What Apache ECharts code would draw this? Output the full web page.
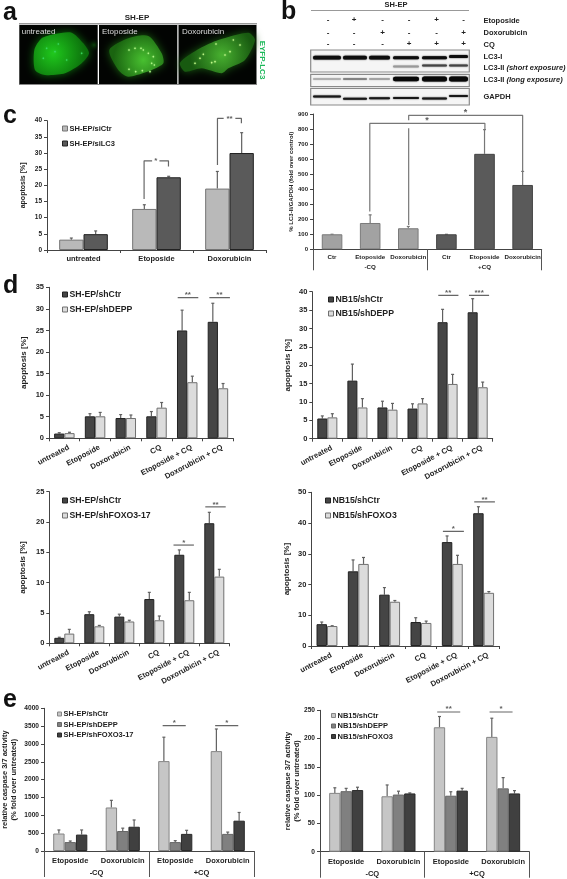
<!DOCTYPE html>
<html><head><meta charset="utf-8">
<style>html,body{margin:0;padding:0;background:#fff}#chart{width:567px;height:879px;filter:blur(0.3px)}</style>
<script src="https://cdn.jsdelivr.net/npm/echarts@6/dist/echarts.min.js"></script>
</head><body><div id="chart"></div>
<script>
// ---------- data ----------
const catsC = ['untreated','Etoposide','Doxorubicin'];
const cCtr = [3.2,12.7,19], cCtrHi = [3.7,14,24.3];
const cLC3 = [4.9,22.5,30], cLC3Hi = [5.9,22.8,36.3];
const catsB = ['Ctr','Etoposide','Doxorubicin','Ctr','Etoposide','Doxorubicin'];
const bVals = [100,175,140,100,635,428], bHi = [100,229,152,100,796,518];
const catsD = ['untreated','Etoposide','Doxorubicin','CQ','Etoposide + CQ','Doxorubicin + CQ'];
const d1Ctr = [1.1,5.1,4.7,5.1,25,27], d1CtrHi = [1.3,5.7,5.5,6.2,29.7,31.3];
const d1Sh = [1.2,5.1,4.7,7.1,13,11.6], d1ShHi = [1.4,6,5.4,8.3,14.4,12.7];
const d2Ctr = [5.5,15.8,8.5,8.2,31.7,34.4], d2CtrHi = [6.2,20.3,10.2,9.5,35.2,38.1];
const d2Sh = [5.8,8.5,7.9,9.6,14.9,14], d2ShHi = [6.8,10.9,9.6,10.9,17.5,15.4];
const d3Ctr = [0.9,4.8,4.4,7.3,14.6,19.8], d3CtrHi = [1,5.2,4.8,8.4,15.4,21.6];
const d3Sh = [1.6,2.8,3.6,3.8,7.1,11], d3ShHi = [2.3,2.95,3.8,4.5,8.4,12.2];
const d4Ctr = [7.1,24.3,16.7,7.8,33.8,43.2], d4CtrHi = [7.8,28,19,9.2,35.8,45.3];
const d4Sh = [6.5,26.7,14.4,7.5,26.7,17.3], d4ShHi = [6.6,28.8,14.8,8.1,29.5,17.7];
const catsE = ['Etoposide','Doxorubicin','Etoposide','Doxorubicin'];
const groupsCQ = ['-CQ','+CQ'];
const e1Ctr = [490,1220,2520,2800], e1CtrHi = [590,1420,3190,3420];
const e1Depp = [250,560,250,480], e1DeppHi = [280,640,290,530];
const e1Foxo = [460,680,480,850], e1FoxoHi = [590,870,580,1080];
const e2Ctr = [104,98,220,203], e2CtrHi = [113,118,239,236];
const e2Depp = [107,101,99,112], e2DeppHi = [112,107,106,131];
const e2Foxo = [109,103,108,103], e2FoxoHi = [114,104,112,108];
// significance brackets (axis units: category position, value)
const cBrackets = [[[1.33,15.8],[1.33,27.6],[1.44,27.6]],[[1.54,27.6],[1.664,27.6],[1.664,25.8]],[[2.335,26.3],[2.335,40.7],[2.42,40.7]],[[2.58,40.7],[2.663,40.7],[2.663,39.2]]];
const cStars = [[1.49,27.6,'*'],[2.5,40.7,'**']];
const bBrackets = [[[1.49,251],[1.49,838],[4.51,838],[4.51,796]],[[2.51,858],[2.51,891],[5.5,891],[5.5,518]],[[2.51,806],[2.51,162]]];
const bStars = [[2.99,855,'*'],[4.0,908,'*']];
const d1Brackets = [[[4.19,32.6],[4.86,32.6]],[[5.22,32.6],[5.89,32.6]]];
const d1Stars = [[4.52,33.2,'**'],[5.55,33.2,'**']];
const d2Brackets = [[[4.19,39],[4.86,39]],[[5.21,39],[5.88,39]]];
const d2Stars = [[4.52,39.7,'**'],[5.55,39.7,'***']];
const d3Brackets = [[[4.14,16.2],[4.82,16.2]],[[5.2,22.5],[5.88,22.5]]];
const d3Stars = [[4.48,16.6,'*'],[5.54,22.9,'**']];
const d4Brackets = [[[4.2,37.3],[4.87,37.3]],[[5.2,46.9],[5.86,46.9]]];
const d4Stars = [[4.53,38,'*'],[5.53,47.6,'**']];
const e1Brackets = [[[2.26,3514],[2.7,3514]],[[3.26,3514],[3.7,3514]]];
const e1Stars = [[2.48,3590,'*'],[3.48,3590,'*']];
const e2Brackets = [[[2.24,247],[2.68,247]],[[3.24,247],[3.68,247]]];
const e2Stars = [[2.46,252,'**'],[3.46,252,'*']];
// western-blot treatment rows
const blotEto = ['-','+','-','-','+','-'];
const blotDoxo = ['-','-','+','-','-','+'];
const blotCQ = ['-','-','-','+','+','+'];

// ---------- builders ----------
const FONT = '"Liberation Sans", Arial, sans-serif';
const INK = '#222';
const LIGHT_C = {fill:'#b9b9b9', line:'#757575'};
const DARK_C = {fill:'#5a5a5a', line:'#222'};
const DARK_D = {fill:'#454545', line:'#222'};
const LIGHT_D = {fill:'#dcdcdc', line:'#707070'};
const E1 = {fill:'#c6c6c6', line:'#858585'};
const E2 = {fill:'#808080', line:'#666'};
const E3 = {fill:'#404040', line:'#2a2a2a'};
const option = {animation:false, backgroundColor:'#fff', textStyle:{fontFamily:FONT},
  grid:[], xAxis:[], yAxis:[], series:[], legend:[], graphic:{elements:[]}};

function addPanel(p){
  const g = option.grid.length;
  option.grid.push({left:p.box[0], top:p.box[1], width:p.box[2]-p.box[0], height:p.box[3]-p.box[1], containLabel:false});
  const cx = option.xAxis.length;
  option.xAxis.push({type:'category', gridIndex:g, data:p.cats, position:'bottom',
    axisLine:{show:true, lineStyle:{color:'#444', width:1}},
    axisTick:{show:true, length:p.groups?0:3, alignWithLabel:false, lineStyle:{color:'#444'}},
    axisLabel:{show:true, interval:0, rotate:p.rotate||0, fontSize:p.catSize, fontWeight:'bold', color:INK, margin:p.catMargin, padding:p.catPadding||0, fontFamily:FONT}});
  if(p.groups){
    option.xAxis.push({type:'category', gridIndex:g, data:p.groups, position:'bottom',
      axisLine:{show:false}, axisTick:{show:true, length:p.groupTick, lineStyle:{color:'#555'}},
      axisLabel:{show:true, interval:0, fontSize:p.catSize, fontWeight:'bold', color:INK, margin:p.groupMargin, fontFamily:FONT}});
  }
  const vx = option.xAxis.length;
  option.xAxis.push({type:'value', gridIndex:g, min:0, max:p.cats.length, show:false, position:'top', splitLine:{show:false}});
  const y = option.yAxis.length;
  option.yAxis.push({type:'value', gridIndex:g, min:0, max:p.ymax, interval:p.step,
    name:p.yname, nameLocation:'middle', nameRotate:90, nameGap:p.nameGap, nameMoveOverlap:false,
    nameTextStyle:{fontSize:p.nameSize, fontWeight:'bold', color:INK, lineHeight:p.nameSize+1, fontFamily:FONT},
    axisLine:{show:true, lineStyle:{color:'#444', width:1}},
    axisTick:{show:true, length:3, lineStyle:{color:'#444'}},
    splitLine:{show:false},
    axisLabel:{fontSize:p.tickSize, fontWeight:'bold', color:INK, margin:5, fontFamily:FONT, formatter:v=>String(v)}});
  const n = p.bars.length, gap = p.gap;
  p.bars.forEach((b,i)=>{
    option.series.push({type:'bar', name:b.name, xAxisIndex:cx, yAxisIndex:y, silent:true,
      barGap:'0%', barCategoryGap:(gap*100)+'%',
      itemStyle:{color:b.style.fill, borderColor:b.style.line, borderWidth:1},
      data:b.vals.map((v,k)=> b.perPoint ? {value:v, itemStyle:{color:b.perPoint[k].fill, borderColor:b.perPoint[k].line, borderWidth:1}} : v)});
    option.series.push({type:'custom', xAxisIndex:cx, yAxisIndex:y, silent:true, clip:false, z:1,
      data:b.vals.map((v,k)=>[k,v,b.hi[k]]),
      renderItem:(params,api)=>{
        const band = api.size([1,0])[0];
        const off = (i-(n-1)/2)*band*(1-gap)/n;
        const lo = api.coord([api.value(0),api.value(1)]), hi = api.coord([api.value(0),api.value(2)]);
        const x = lo[0]+off, st = {stroke:p.errColor||'#606060', lineWidth:1.2, fill:'none'};
        return {type:'group', children:[
          {type:'line', shape:{x1:x,y1:lo[1],x2:x,y2:hi[1]}, style:st},
          {type:'line', shape:{x1:x-1.5,y1:hi[1],x2:x+1.5,y2:hi[1]}, style:st}]};
      }});
  });
  (p.brackets||[]).forEach(pts=>{
    option.series.push({type:'line', xAxisIndex:vx, yAxisIndex:y, data:pts, symbol:'none', silent:true, clip:false,
      lineStyle:{color:p.bracketColor||'#555', width:p.bracketWidth||1.2}, z:3});
  });
  if(p.stars) option.series.push({type:'scatter', xAxisIndex:vx, yAxisIndex:y, data:p.stars, silent:true, clip:false,
    symbolSize:1, itemStyle:{color:'transparent'}, z:4,
    label:{show:true, position:'inside', formatter:o=>o.value[2], fontSize:p.starSize||8, fontWeight:'bold', color:'#333', fontFamily:FONT}});
  if(p.legend) option.legend.push({left:p.legend.left, top:p.legend.top, orient:'vertical', padding:0,
    itemGap:p.legend.gap, itemWidth:p.legend.sym, itemHeight:p.legend.sym, selectedMode:false, icon:'rect',
    textStyle:{fontSize:p.legend.size, fontWeight:'bold', color:INK, fontFamily:FONT, padding:[0,0,0,-3]},
    data:p.bars.map(b=>({name:b.name, icon:'rect', itemStyle:{color:b.style.fill, borderColor:b.style.line, borderWidth:1}}))});
}

const A = 'apoptosis [%]', CASP = 'relative caspase 3/7 activity\n(% fold over untreated)';
addPanel({box:[47,120.7,266,250], cats:catsC, ymax:40, step:5, gap:1/3, catSize:7.5, catMargin:5, tickSize:6.5, yname:A, nameGap:19.5, nameSize:7,
  bars:[{name:'SH-EP/siCtr',vals:cCtr,hi:cCtrHi,style:LIGHT_C},{name:'SH-EP/siLC3',vals:cLC3,hi:cLC3Hi,style:DARK_C}],
  brackets:cBrackets, stars:cStars, bracketColor:'#666',
  legend:{left:62,top:124.5,gap:7,sym:5,size:7.5}});
const bStyles = [0,1,2].map(()=>({fill:'#a2a2a2',line:'#7a7a7a'})).concat([0,1,2].map(()=>({fill:'#5a5a5a',line:'#444'})));
addPanel({box:[313,114,541.7,249.3], cats:catsB, ymax:900, step:100, gap:0.46, catSize:6.2, catMargin:5, tickSize:6,
  yname:'% LC3-II/GAPDH (fold over control)', nameGap:18, nameSize:6, groups:groupsCQ, groupTick:21, groupMargin:15,
  bars:[{name:'b',vals:bVals,hi:bHi,style:bStyles[0],perPoint:bStyles}], brackets:bBrackets, stars:bStars, bracketColor:'#777', bracketWidth:1.2, errColor:'#777', starSize:9});
const dCommon = {gap:1/3, catSize:7.6, catMargin:11, catPadding:[0,-5,0,0], tickSize:7.5, yname:A, nameSize:8, rotate:28, bracketColor:'#666', starSize:8};
addPanel({...dCommon, box:[49,287.3,233.3,438.3], cats:catsD, ymax:35, step:5, nameGap:21,
  bars:[{name:'SH-EP/shCtr',vals:d1Ctr,hi:d1CtrHi,style:DARK_D},{name:'SH-EP/shDEPP',vals:d1Sh,hi:d1ShHi,style:LIGHT_D}],
  brackets:d1Brackets, stars:d1Stars, legend:{left:62,top:290,gap:6,sym:5,size:8.7}});
addPanel({...dCommon, box:[312.3,291.7,492.7,438.7], cats:catsD, ymax:40, step:5, nameGap:20,
  bars:[{name:'NB15/shCtr',vals:d2Ctr,hi:d2CtrHi,style:DARK_D},{name:'NB15/shDEPP',vals:d2Sh,hi:d2ShHi,style:LIGHT_D}],
  brackets:d2Brackets, stars:d2Stars, legend:{left:328,top:295,gap:5,sym:5,size:8.7}});
addPanel({...dCommon, box:[49.3,491.7,229.3,643.3], cats:catsD, ymax:25, step:5, nameGap:22,
  bars:[{name:'SH-EP/shCtr',vals:d3Ctr,hi:d3CtrHi,style:DARK_D},{name:'SH-EP/shFOXO3-17',vals:d3Sh,hi:d3ShHi,style:LIGHT_D}],
  brackets:d3Brackets, stars:d3Stars, legend:{left:62,top:496,gap:6,sym:5,size:8.7}});
addPanel({...dCommon, box:[311.3,492.3,499.3,646], cats:catsD, ymax:50, step:10, nameGap:20,
  bars:[{name:'NB15/shCtr',vals:d4Ctr,hi:d4CtrHi,style:DARK_D},{name:'NB15/shFOXO3',vals:d4Sh,hi:d4ShHi,style:LIGHT_D}],
  brackets:d4Brackets, stars:d4Stars, legend:{left:325,top:496,gap:6,sym:5,size:8.7}});
const eCommon = {gap:0.35, catSize:7.5, catMargin:6, tickSize:6.6, yname:CASP, nameSize:7.5, groups:groupsCQ, groupTick:26, groupMargin:18, bracketColor:'#666', starSize:8};
addPanel({...eCommon, box:[43.7,708.3,254,851], cats:catsE, ymax:4000, step:500, nameGap:26,
  bars:[{name:'SH-EP/shCtr',vals:e1Ctr,hi:e1CtrHi,style:E1},{name:'SH-EP/shDEPP',vals:e1Depp,hi:e1DeppHi,style:E2},{name:'SH-EP/shFOXO3-17',vals:e1Foxo,hi:e1FoxoHi,style:E3}],
  brackets:e1Brackets, stars:e1Stars, legend:{left:57,top:710,gap:2.5,sym:4,size:7.5}});
addPanel({...eCommon, box:[320,710.3,529.3,851.7], cats:catsE, ymax:250, step:50, nameGap:19,
  bars:[{name:'NB15/shCtr',vals:e2Ctr,hi:e2CtrHi,style:E1},{name:'NB15/shDEPP',vals:e2Depp,hi:e2DeppHi,style:E2},{name:'NB15/shFOXO3',vals:e2Foxo,hi:e2FoxoHi,style:E3}],
  brackets:e2Brackets, stars:e2Stars, legend:{left:331,top:711.5,gap:2.5,sym:4,size:7.5}});

// ---------- illustrations (micrographs & blots) ----------
const G = option.graphic.elements;
const text=(x,y,s,o={})=>G.push({type:'text', x, y, rotation:o.rot||0, z:20, silent:true, style:{text:s, rich:o.rich, fontFamily:FONT, fontSize:o.size||8, fontWeight:o.weight||'bold', fill:o.fill||INK, align:o.align||'left', verticalAlign:'middle'}});
[['a',3,13],['b',281,12],['c',3,116],['d',3,286],['e',3,700]].forEach(l=>text(l[1],l[2],l[0],{size:25,fill:'#111'}));

// panel a
const az=(x,y)=>[15+x/3,20+y/3];
G.push({type:'rect',shape:{x:19,y:23,width:238,height:1.5},style:{fill:'#999'},z:5,silent:true});
G.push({type:'rect',shape:{x:19,y:84,width:238,height:1},style:{fill:'#888'},z:5,silent:true});
[[19.3,78.4],[99,78.3],[178.5,78]].forEach(r=>G.push({type:'rect',shape:{x:r[0],y:25,width:r[1],height:59},style:{fill:'#020402'},z:5,silent:true}));
function cell(pts,cx,cy,rr,inner,outer,dots,dotCol){
  const P=pts.map(p=>az(p[0],p[1])); const c=az(cx,cy);
  G.push({type:'polygon',z:6,silent:true,shape:{points:P,smooth:0.25},style:{
    fill:new echarts.graphic.RadialGradient(c[0],c[1],rr,[{offset:0,color:inner},{offset:1,color:outer}],true),
    shadowBlur:8,shadowColor:outer}});
  dots.forEach(d=>{const q=az(d[0],d[1]);G.push({type:'circle',z:7,silent:true,shape:{cx:q[0],cy:q[1],r:d[2]||0.8},style:{fill:dotCol,shadowBlur:1.5,shadowColor:dotCol}})});
}
G.push({type:'rect',z:5.5,silent:true,shape:{x:85,y:25,width:12.7,height:50},style:{fill:new echarts.graphic.RadialGradient(0.7,0.4,0.6,[{offset:0,color:'#0a420a'},{offset:1,color:'rgba(2,4,2,0)'}])}});
cell([[58,90],[80,55],[120,42],[170,38],[205,70],[222,100],[200,130],[150,160],[90,165],[60,150]],115,100,32,'#1fc81c','#0c700c',[[95,85],[120,95],[130,72],[155,120],[85,115],[200,100]],'#39d860');
cell([[283,90],[340,55],[400,48],[440,100],[445,130],[410,150],[340,170],[310,150]],385,120,30,'#48c030','#1a6410',[[342,90],[360,85],[378,85],[385,90],[400,100],[415,110],[410,130],[418,135],[342,148],[362,155],[382,152],[405,155]],'#b0f888');
cell([[495,128],[555,85],[610,60],[700,38],[720,60],[690,120],[640,145],[620,160],[560,145],[510,155]],620,105,32,'#48b030','#185a10',[[603,72],[655,60],[675,75],[565,103],[555,115],[540,130],[600,125],[590,128],[645,95],[630,105]],'#c0f888');
[['untreated',21.7],['Etoposide',102],['Doxorubicin',182]].forEach(t=>text(t[1],32,t[0],{size:8,weight:'normal',fill:'#ddd'}));
text(137,17.5,'SH-EP',{align:'center',size:8});
text(262,60,'EYFP-LC3',{align:'center',size:8,fill:'#1cb85a',rot:-Math.PI/2});

// panel b blot
G.push({type:'rect',shape:{x:311,y:10,width:158,height:1},style:{fill:'#999'},silent:true,z:5});
text(396,4.5,'SH-EP',{align:'center',size:7.5});
const colX=[328,354,382.6,409,436.5,463.6];
[[blotEto,20],[blotDoxo,32.3],[blotCQ,43.3]].forEach(r=>r[0].forEach((s,i)=>text(colX[i],r[1],s,{align:'center',size:8})));
[['Etoposide',20.5],['Doxorubicin',33],['CQ',44.5]].forEach(l=>text(483.5,l[1],l[0],{size:7.5}));
text(483.5,57,'LC3-I',{size:7.5});
const richStyles={a:{fontSize:7.5,fontWeight:'bold',fontFamily:FONT,fill:INK},b:{fontSize:7.5,fontWeight:'bold',fontStyle:'italic',fontFamily:FONT,fill:INK}};
text(483.5,68,'{a|LC3-II }{b|(short exposure)}',{rich:richStyles});
text(483.5,80,'{a|LC3-II }{b|(long exposure)}',{rich:richStyles});
text(483.5,97,'GAPDH',{size:7.5});
[[50,22],[74.3,12.2],[88.3,16.7]].forEach(b=>G.push({type:'rect',z:5,silent:true,shape:{x:310.7,y:b[0],width:158.6,height:b[1]},style:{fill:'#f5f5f5',stroke:'#8a8a8a',lineWidth:1.2}}));
const laneR=[[313,341],[343,367],[369,390],[393,419],[422,447],[449,468]];
const band=(lane,y,h,col)=>{const l=laneR[lane];G.push({type:'rect',z:6,silent:true,shape:{x:l[0],y:y-h/2,width:l[1]-l[0],height:h,r:h/2},style:{fill:col,shadowBlur:1.5,shadowColor:col}})};
[0,1,2,3,4,5].forEach(i=>band(i,i===5?56.5:57.7,i>2?3:3.8,'#0d0d0d'));
[['#999',0],['#444',1],['#444',2]].forEach(b=>band(b[1]+3,b[1]==0?66.5:65.5,2.2,b[0]));
[['#a8a8a8',0],['#777',1],['#9a9a9a',2]].forEach(b=>band(b[1],79,1.4,b[0]));
[3,4,5].forEach(i=>band(i,79,i===3?4.4:5,'#080808'));
[[0,96.5],[1,98.8],[2,98.3],[3,98],[4,98.5],[5,96]].forEach(b=>band(b[0],b[1],2,'#181818'));

const chart = echarts.init(document.getElementById('chart'));
chart.setOption(option);
</script></body></html>
